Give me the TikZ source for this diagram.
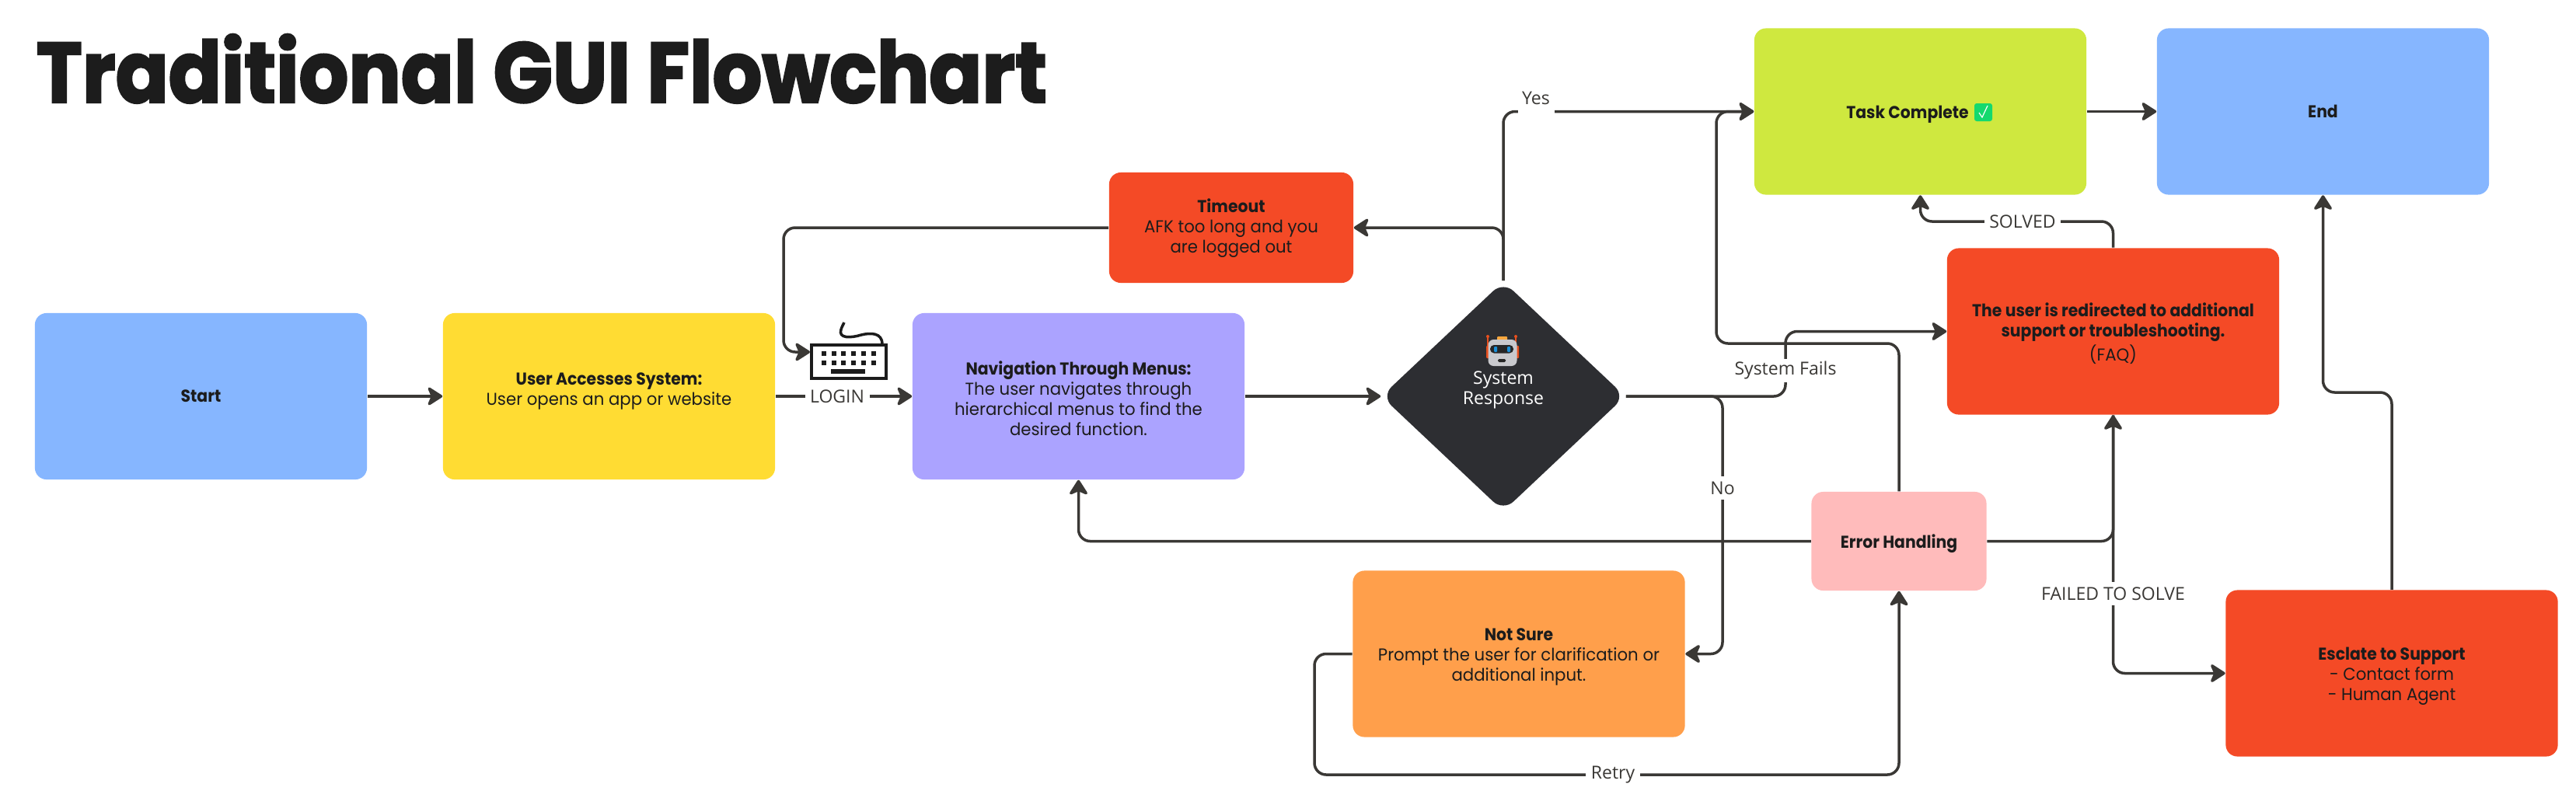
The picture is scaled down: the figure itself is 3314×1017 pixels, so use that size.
\documentclass[tikz,border=0pt]{standalone}
\usepackage{fontspec}
\setmainfont{Poppins}[FakeStretch=0.96,BoldFeatures={FakeStretch=0.92}]
\newfontfamily\lblfont{Open Sans}
\newfontfamily\titlefont{Poppins}[FakeStretch=0.91,BoldFeatures={FakeBold=2.2}]
\usetikzlibrary{arrows.meta,shapes.geometric}
\definecolor{cBlue}{HTML}{86B6FF}
\definecolor{cYellow}{HTML}{FFDC33}
\definecolor{cPurple}{HTML}{ABA3FF}
\definecolor{cDark}{HTML}{2D2E32}
\definecolor{cRed}{HTML}{F44A26}
\definecolor{cLime}{HTML}{CFE83F}
\definecolor{cOrange}{HTML}{FF9F4B}
\definecolor{cPink}{HTML}{FFBBBB}
\definecolor{cLine}{HTML}{3A3835}
\definecolor{cInk}{HTML}{1C1C1C}
\definecolor{cCheck}{HTML}{14D96E}
\definecolor{cHead}{HTML}{C9C9CD}
\definecolor{cEye}{HTML}{1A8FD8}
\definecolor{cHat}{HTML}{F9A73E}
\definecolor{cEar}{HTML}{E8501F}
\newcommand{\toppad}{\rule{0pt}{6.6pt}}
\tikzset{
  box/.style={rectangle,rounded corners=0.15cm,inner sep=0pt,align=center,text=cInk,
    font=\fontsize{6.3}{7.4}\selectfont},
  wide/.style={box,minimum width=4.27cm,minimum height=2.14cm},
  conn/.style={draw=cLine,line width=0.035cm,rounded corners=0.15cm},
  arr/.style={conn,-{Stealth[length=0.22cm,width=0.28cm,inset=0.06cm,round]}},
  lbl/.style={fill=white,inner xsep=0.065cm,inner ysep=0pt,minimum height=0.3cm,text=cLine,
    font=\lblfont\fontsize{6.55}{7.4}\selectfont},
  keycap/.style={fill=cInk},
}
\begin{document}
\begin{tikzpicture}[x=0.01cm,y=-0.01cm]
\useasboundingbox[fill=white] (0,0) rectangle (3314,1017);
% title
\node[anchor=base west,inner sep=0pt,text=cInk,font=\titlefont\bfseries\fontsize{31.3}{36}\selectfont] (title) at (46,132) {Traditional GUI Flowchart};
% boxes
\node[wide,fill=cBlue] (start) at (258.5,510) {\bfseries Start};
\node[wide,fill=cYellow] (user) at (783.5,510) {\toppad\bfseries User Accesses System:\\User opens an app or website\\\mbox{}};
\node[wide,fill=cPurple] (nav) at (1387.5,510) {\toppad\bfseries Navigation Through Menus:\\The user navigates through\\hierarchical menus to find the\\desired function.};
\node[box,fill=cRed,minimum width=3.14cm,minimum height=1.42cm] (timeout) at (1584,293) {\toppad\bfseries Timeout\\AFK too long and you\\are logged out\\[-4.5pt]\mbox{}};
\node[diamond,fill=cDark,rounded corners=0.18cm,inner sep=0pt,minimum width=3.14cm,minimum height=2.96cm] (dec) at (1934,510) {};
\node[wide,fill=cOrange,minimum width=4.27cm] (notsure) at (1954,841.5) {\toppad\bfseries Not Sure\\Prompt the user for clarification or\\additional input.};
\node[box,fill=cPink,minimum width=2.25cm,minimum height=1.27cm] (err) at (2443,696.5) {\toppad\bfseries Error Handling};
\node[wide,fill=cLime] (task) at (2470.5,143.5) {\toppad\bfseries Task Complete\hspace{0.33cm}};
\node[wide,fill=cBlue] (nEnd) at (2988.5,143.5) {\bfseries End};
\node[wide,fill=cRed] (red) at (2718.5,426.5) {\toppad\bfseries The user is redirected to additional\\\bfseries support or troubleshooting.\\(FAQ)};
\node[wide,fill=cRed] (esc) at (3077,866.5) {\toppad\bfseries Esclate to Support\\- Contact form\\- Human Agent};
% keyboard
\node[draw=cInk,fill=white,line width=0.04cm,inner sep=0pt,minimum width=0.96cm,minimum height=0.43cm] (kbd) at (1092,465.5) {};
\foreach \kx in {1060,1072.7,1085.4,1098.1,1110.8,1123.5}{
  \fill[keycap] (\kx-3,452) rectangle (\kx+3,458);
  \fill[keycap] (\kx-3,464) rectangle (\kx+3,470);
}
\fill[keycap] (1069,475) rectangle (1113,481);
\draw[cInk,line width=0.035cm] (1135,443) .. controls (1135,428) and (1120,428) .. (1108,431) .. controls (1095,435) and (1078,436) .. (1082,424) .. controls (1083,420) and (1085,418) .. (1086,415);
% coordinates
\coordinate (kbdIn) at (1042,453);
\coordinate (tA) at (1008,293);
\coordinate (tB) at (1008,453);
\coordinate (yA) at (1934,143.5);
\coordinate (tC) at (1934,293);
\coordinate (sA) at (2297,510);
\coordinate (sB) at (2297,426.5);
\coordinate (nA) at (2216,510);
\coordinate (nB) at (2216,841.5);
\coordinate (eA) at (2443,442);
\coordinate (eB) at (2208,442);
\coordinate (eC) at (2208,143.5);
\coordinate (eD) at (1387.5,696.5);
\coordinate (eE) at (2718.5,696.5);
\coordinate (fA) at (2718.5,866.5);
\coordinate (vA) at (2718.5,285);
\coordinate (vB) at (2470.5,285);
\coordinate (uA) at (3077,505);
\coordinate (uB) at (2988.5,505);
\coordinate (rA) at (1691,841.5);
\coordinate (rB) at (1691,997);
\coordinate (rC) at (2443,997);
% connectors
\draw[arr] (start.east) -- (user.west);
\draw[arr] (user.east) -- (nav.west);
\draw[arr] (timeout.west) -- (tA) -- (tB) -- (kbdIn);
\draw[arr] (nav.east) -- (dec.west);
\draw[arr] (dec.north) -- (yA) -- (task.west);
\draw[arr] (dec.north) -- (tC) -- (timeout.east);
\draw[arr] (dec.east) -- (sA) -- (sB) -- (red.west);
\draw[arr] (dec.east) -- (nA) -- (nB) -- (notsure.east);
\draw[arr] (err.north) -- (eA) -- (eB) -- (eC) -- (task.west);
\draw[arr] (err.west) -- (eD) -- (nav.south);
\draw[arr] (err.east) -- (eE) -- (red.south);
\draw[arr] (red.south) -- (fA) -- (esc.west);
\draw[arr] (red.north) -- (vA) -- (vB) -- (task.south);
\draw[arr] (esc.north) -- (uA) -- (uB) -- (nEnd.south);
\draw[arr] (notsure.west) -- (rA) -- (rB) -- (rC) -- (err.south);
\draw[arr] (task.east) -- (nEnd.west);
% labels
\node[lbl] (lLogin) at (1077,510) {LOGIN};
\node[lbl,minimum width=0.47cm,minimum height=0.36cm,text depth=0.1cm,text height=0.2cm,inner sep=0pt] (lYes) at (1976,129) {Yes};
\node[lbl] (lFails) at (2297,477) {System Fails};
\node[lbl] (lNo) at (2216,628) {No};
\node[lbl] (lFailed) at (2718.5,764) {FAILED TO SOLVE};
\node[lbl] (lSolved) at (2602,285) {SOLVED};
\node[lbl] (lRetry) at (2075,997) {Retry};
% system response text
\node[inner sep=0pt,align=center,text=white,font=\lblfont\fontsize{6.55}{7.4}\selectfont] (sysText) at (1934,502) {System\\Response};
% robot
\fill[cEar,rounded corners=0.01cm] (1912,445) rectangle (1954,461);
\draw[cEar,line width=0.012cm] (1914,433) -- (1914,447) (1950,433) -- (1950,447);
\fill[cEar] (1914,433) circle (2);
\fill[cEar] (1950,433) circle (2);
\fill[cHat,rounded corners=0.01cm] (1926,433) rectangle (1939,438);
\node[fill=cHead,rounded corners=0.07cm,inner sep=0pt,minimum width=0.37cm,minimum height=0.34cm] (robot) at (1933,454) {};
\fill[black!85,rounded corners=0.05cm] (1917,444) rectangle (1947,454.5);
\fill[cEye,rounded corners=0.01cm] (1922,446) rectangle (1926,453);
\fill[cEye,rounded corners=0.01cm] (1939,446) rectangle (1943,453);
\fill[black!85,rounded corners=0.015cm] (1927,462) rectangle (1937,466);
% check badge
\node[fill=cCheck,rounded corners=0.03cm,inner sep=0pt,minimum width=0.23cm,minimum height=0.23cm] (check) at (2551.5,144.5) {};
\draw[white,line width=0.012cm] (2546,145) -- (2550,151) -- (2557,136);
\end{tikzpicture}
\end{document}
